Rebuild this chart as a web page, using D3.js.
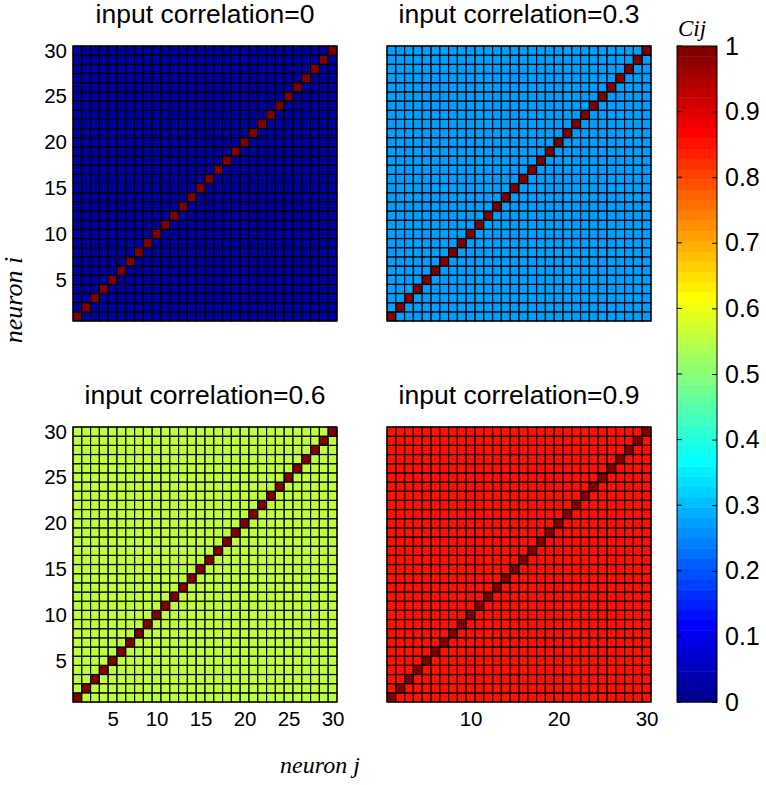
<!DOCTYPE html>
<html><head><meta charset="utf-8">
<script src="https://cdn.jsdelivr.net/npm/d3@7"></script>
<style>body{margin:0;background:#fff}svg{display:block}</style>
</head><body>
<script>
// ---- data ----
const neurons = d3.range(1, 31);                 // neuron indices 1..30
const inputCorrelations = [0, 0.3, 0.6, 0.9];    // panel titles
const offDiagonal = [0.03, 0.27, 0.55, 0.85];
const diagonalValue = 1;                         // Cij for i == j
const yTickValues = [5, 10, 15, 20, 25, 30];
const xTickValuesLeft = [5, 10, 15, 20, 25, 30];
const xTickValuesRight = [10, 20, 30];
const cbarTicks = d3.range(0, 11).map(d => d / 10);

// MATLAB jet(64)
function jet64(i) { // i = 1..64
  const r = i <= 24 ? 0 : i <= 40 ? (i - 24) / 16 : i <= 56 ? 1 : 1 - (i - 56) / 16;
  const g = i <= 8 ? 0 : i <= 24 ? (i - 8) / 16 : i <= 40 ? 1 : i <= 56 ? 1 - (i - 40) / 16 : 0;
  const b = i <= 8 ? 0.5 + i / 16 : i <= 24 ? 1 : i <= 40 ? 1 - (i - 24) / 16 : 0;
  return d3.rgb(r * 255, g * 255, b * 255).toString();
}
const colorOf = v => jet64(Math.min(64, Math.max(1, Math.floor(v * 63.999) + 1)));

const SANS = "Arial, 'Liberation Sans', sans-serif";
const SERIF = "'Times New Roman', 'Liberation Serif', serif";
const W = 766, H = 785;
const svg = d3.select("body").append("svg").attr("width", W).attr("height", H);

const panels = [
  {x0: 73, x1: 337, y0: 46, y1: 321, yTicks: true, xTicks: null},
  {x0: 387, x1: 651, y0: 46, y1: 321, yTicks: false, xTicks: null},
  {x0: 73, x1: 337, y0: 427, y1: 702, yTicks: true, xTicks: xTickValuesLeft},
  {x0: 387, x1: 651, y0: 427, y1: 702, yTicks: false, xTicks: xTickValuesRight}
];

panels.forEach((p, k) => {
  const x = d3.scaleLinear().domain([0.5, 30.5]).range([p.x0, p.x1]);
  const y = d3.scaleLinear().domain([0.5, 30.5]).range([p.y1, p.y0]);
  const g = svg.append("g");
  const cells = [];
  neurons.forEach(i => neurons.forEach(j => cells.push({i, j, v: i === j ? diagonalValue : offDiagonal[k]})));
  g.selectAll("rect.cell").data(cells).enter().append("rect")
    .attr("x", d => x(d.j - 0.5)).attr("y", d => y(d.i + 0.5))
    .attr("width", d => x(d.j + 0.5) - x(d.j - 0.5))
    .attr("height", d => y(d.i - 0.5) - y(d.i + 0.5))
    .attr("fill", d => colorOf(d.v))
    .attr("stroke", "#000").attr("stroke-width", 1.2);
  g.append("rect").attr("x", p.x0).attr("y", p.y0).attr("width", p.x1 - p.x0).attr("height", p.y1 - p.y0)
    .attr("fill", "none").attr("stroke", "#000").attr("stroke-width", 1);

  if (p.yTicks) {
    const ax = svg.append("g").attr("transform", `translate(${p.x0},0)`)
      .call(d3.axisLeft(y).tickValues(yTickValues).tickSize(0).tickPadding(6));
    ax.select(".domain").remove();
    ax.selectAll("text").attr("font-family", SANS).attr("font-size", 20.5).attr("fill", "#000");
  }
  if (p.xTicks) {
    const ax = svg.append("g").attr("transform", `translate(0,${p.y1})`)
      .call(d3.axisBottom(x).tickValues(p.xTicks).tickSize(0).tickPadding(9));
    ax.select(".domain").remove();
    ax.selectAll("text").attr("font-family", SANS).attr("font-size", 20.5).attr("fill", "#000");
  }
  svg.append("text").attr("x", (p.x0 + p.x1) / 2).attr("y", p.y0 - 23)
    .attr("text-anchor", "middle").attr("font-family", SANS)
    .attr("font-size", 26.5).text("input correlation=" + inputCorrelations[k]);
});

// colorbar
const cb = {x0: 677, x1: 717, y0: 46, y1: 702};
const cy = d3.scaleLinear().domain([0, 1]).range([cb.y1, cb.y0]);
const bands = d3.range(1, 65);
svg.append("g").selectAll("rect").data(bands).enter().append("rect")
  .attr("x", cb.x0).attr("width", cb.x1 - cb.x0)
  .attr("y", d => cy(d / 64)).attr("height", d => cy((d - 1) / 64) - cy(d / 64) + 0.5)
  .attr("fill", d => jet64(d));
svg.append("rect").attr("x", cb.x0).attr("y", cb.y0).attr("width", cb.x1 - cb.x0).attr("height", cb.y1 - cb.y0)
  .attr("fill", "none").attr("stroke", "#000").attr("stroke-width", 1);
const cax = svg.append("g").attr("transform", `translate(${cb.x1},0)`)
  .call(d3.axisRight(cy).tickValues(cbarTicks).tickSize(-5).tickPadding(8).tickFormat(d3.format("~g")));
cax.select(".domain").remove();
cax.selectAll("line").attr("stroke", "#000");
cax.selectAll("text").attr("font-family", SANS).attr("font-size", 25).attr("fill", "#000");
svg.append("g").selectAll("line").data(cbarTicks).enter().append("line")
  .attr("x1", cb.x0).attr("x2", cb.x0 + 5).attr("y1", d => cy(d)).attr("y2", d => cy(d)).attr("stroke", "#000");
svg.append("text").attr("x", cb.x0 + 1).attr("y", 36)
  .attr("font-family", SERIF).attr("font-style", "italic")
  .attr("font-size", 23).text("Cij");

// axis titles
svg.append("text").attr("transform", "translate(22,300) rotate(-90)").attr("text-anchor", "middle")
  .attr("font-family", SERIF).attr("font-style", "italic")
  .attr("font-size", 26).text("neuron i");
svg.append("text").attr("x", 320).attr("y", 773).attr("text-anchor", "middle")
  .attr("font-family", SERIF).attr("font-style", "italic")
  .attr("font-size", 24).text("neuron j");
</script>
</body></html>
